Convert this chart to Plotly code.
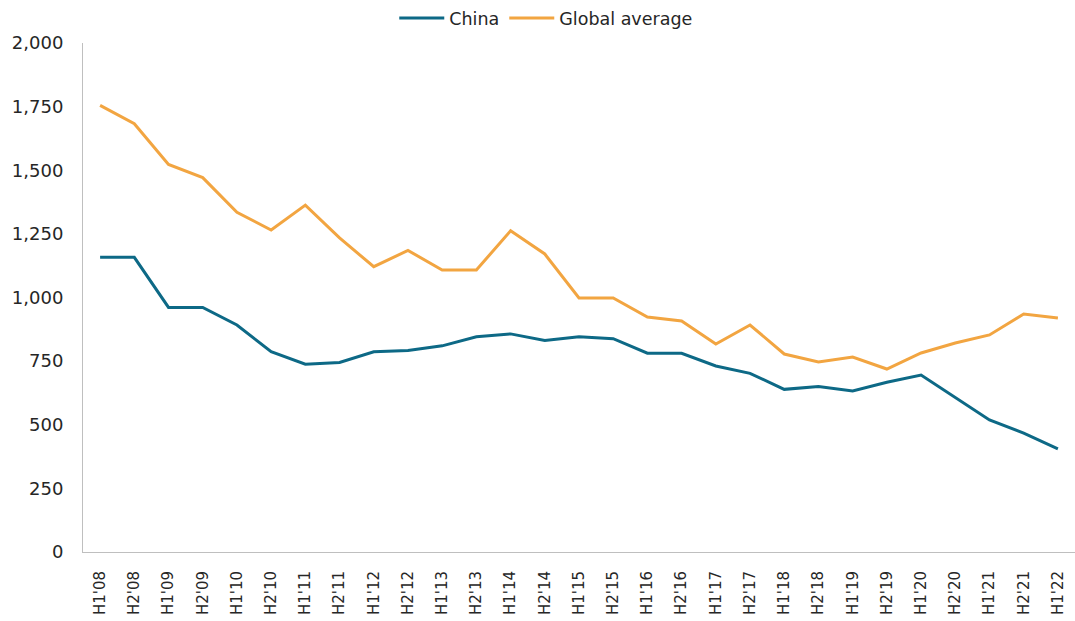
import plotly.graph_objects as go

categories = ["H1'08", "H2'08", "H1'09", "H2'09", "H1'10", "H2'10", "H1'11", "H2'11",
              "H1'12", "H2'12", "H1'13", "H2'13", "H1'14", "H2'14", "H1'15", "H2'15",
              "H1'16", "H2'16", "H1'17", "H2'17", "H1'18", "H2'18", "H1'19", "H2'19",
              "H1'20", "H2'20", "H1'21", "H2'21", "H1'22"]

china = [1158, 1158, 961, 961, 892, 787, 738, 745, 787, 792, 810, 846, 857, 831,
         846, 838, 781, 781, 731, 702, 639, 650, 633, 667, 695, 606, 519, 467, 405]

global_avg = [1755, 1683, 1523, 1471, 1335, 1265, 1363, 1234, 1121, 1185, 1108, 1108,
              1262, 1171, 998, 998, 923, 908, 817, 892, 778, 747, 766, 719, 782, 821,
              853, 935, 919]

y_ticks = [0, 250, 500, 750, 1000, 1250, 1500, 1750, 2000]

fig = go.Figure()
fig.add_trace(go.Scatter(x=categories, y=china, mode="lines", name="China",
                         line=dict(color="#0d6986", width=3)))
fig.add_trace(go.Scatter(x=categories, y=global_avg, mode="lines", name="Global average",
                         line=dict(color="#f2a541", width=3)))

fig.update_layout(
    width=1075, height=621,
    margin=dict(l=83, r=0, t=43, b=69),
    plot_bgcolor="white", paper_bgcolor="white",
    font=dict(family="DejaVu Sans", size=16, color="#262626"),
    legend=dict(orientation="h", x=0.467, xanchor="center", y=1.05, yanchor="middle",
                font=dict(family="DejaVu Sans", size=17.5, color="#262626"),
                itemwidth=45, traceorder="normal"),
    xaxis=dict(type="category", tickangle=-90, showgrid=False, showline=True,
               linecolor="#bfbfbf", linewidth=1, ticks="outside", ticklen=12,
               tickcolor="white", tickfont=dict(family="DejaVu Sans", size=15, color="#262626"),
               range=[-0.5, 28.5]),
    yaxis=dict(range=[0, 2000], tickvals=y_ticks, tickformat=",", showgrid=False,
               showline=True, linecolor="#bfbfbf", linewidth=1, zeroline=False,
               ticks="outside", ticklen=15, tickcolor="white",
               tickfont=dict(family="DejaVu Sans", size=18, color="#262626")),
)

fig.write_html("out.html")
